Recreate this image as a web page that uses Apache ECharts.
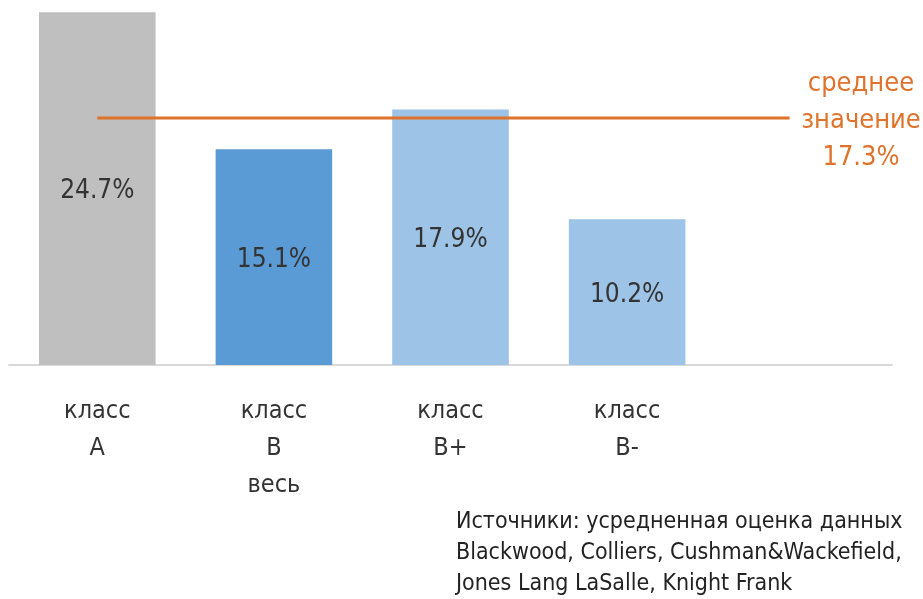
<!DOCTYPE html>
<html>
<head>
<meta charset="utf-8">
<script src="https://cdn.jsdelivr.net/npm/echarts@6/dist/echarts.min.js"></script>
<style>
  html, body { margin: 0; padding: 0; background: #ffffff; }
  #chart { width: 923px; height: 599px; }
</style>
</head>
<body>
<div id="chart"></div>
<script>
// Vacancy share by office class
const categories = ['класс\nA', 'класс\nB\nвесь', 'класс\nB+', 'класс\nB-', ''];
const values = [24.7, 15.1, 17.9, 10.2, null];
const barColors = ['#bfbfbf', '#5b9bd5', '#9dc3e6', '#9dc3e6', '#9dc3e6'];
const averageValue = 17.3;
const averageCaption = ['среднее', 'значение', '17.3%'];
const sourceLines = [
  'Источники: усредненная оценка данных',
  'Blackwood, Colliers, Cushman&Wackefield,',
  'Jones Lang LaSalle, Knight Frank'
];

const FONT = '"Liberation Sans Narrow", "DejaVu Sans Condensed", "Liberation Sans", sans-serif';
const ORANGE = '#e0732c';

// horizontal extent of the average line, in category units on a hidden value axis
const avgLineFrom = 0.5;
const avgLineTo = 4.42;

const chart = echarts.init(document.getElementById('chart'));
chart.setOption({
  animation: false,
  grid: { left: 9, right: 31, top: 8, bottom: 234 },
  xAxis: [
    {
      type: 'category',
      data: categories,
      axisLine: { lineStyle: { color: '#d9d9d9', width: 2 } },
      axisTick: { show: false },
      axisLabel: {
        interval: 0,
        margin: 28,
        fontFamily: FONT,
        fontSize: 25,
        lineHeight: 37,
        color: '#333333'
      }
    },
    { type: 'value', min: 0, max: 5, show: false }
  ],
  yAxis: { type: 'value', min: 0, max: 25, show: false },
  series: [
    {
      type: 'bar',
      data: values.map((v, i) => ({ value: v, itemStyle: { color: barColors[i] } })),
      barWidth: '66%',
      label: {
        show: true,
        position: 'inside',
        offset: [0, 3],
        formatter: p => p.value.toFixed(1) + '%',
        fontFamily: FONT,
        fontSize: 26,
        color: '#333333'
      }
    },
    {
      type: 'line',
      xAxisIndex: 1,
      data: [[avgLineFrom, averageValue], [avgLineTo, averageValue]],
      symbol: 'none',
      lineStyle: { color: ORANGE, width: 3 },
      silent: true
    }
  ],
  graphic: [
    {
      type: 'text',
      x: 861,
      y: 65,
      style: {
        text: averageCaption.join('\n'),
        fontFamily: FONT,
        fontSize: 27,
        lineHeight: 37,
        fill: ORANGE,
        align: 'center',
        verticalAlign: 'top'
      }
    },
    {
      type: 'text',
      x: 456,
      y: 507,
      style: {
        text: sourceLines.join('\n'),
        fontFamily: FONT,
        fontSize: 23,
        lineHeight: 31,
        fill: '#222222'
      }
    }
  ]
});
</script>
</body>
</html>
